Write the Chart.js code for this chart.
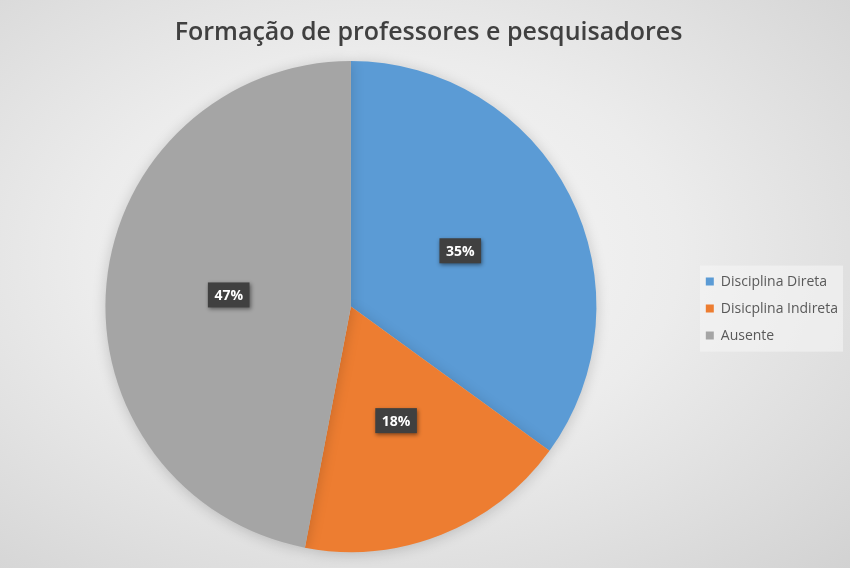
<!DOCTYPE html>
<html>
<head>
<meta charset="utf-8">
<script src="https://cdn.jsdelivr.net/npm/chart.js@4.4.1/dist/chart.umd.min.js"></script>
<style>
  html, body { margin: 0; padding: 0; }
  body { width: 850px; height: 568px; overflow: hidden; }
  #wrap {
    width: 850px; height: 568px;
    background: radial-gradient(ellipse at 45% 45%, #f8f8f8 0%, #ececec 45%, #d2d2d2 100%);
  }
</style>
</head>
<body>
<div id="wrap"><canvas id="pieChart" width="850" height="568"></canvas></div>
<script>
const categories = ['Disciplina Direta', 'Disicplina Indireta', 'Ausente'];
const shares = [35, 18, 47];
const colors = ['#5b9bd5', '#ed7d31', '#a5a5a5'];

// light box behind the legend items
const legendBox = {
    id: 'legendBox',
    beforeDraw(chart) {
        const lg = chart.legend;
        if (!lg || !lg.legendHitBoxes || !lg.legendHitBoxes.length) return;
        const hb = lg.legendHitBoxes;
        const top = Math.min(...hb.map(b => b.top));
        const bottom = Math.max(...hb.map(b => b.top + b.height));
        const c = chart.ctx;
        c.save();
        c.fillStyle = 'rgba(245,245,245,0.6)';
        c.fillRect(700, top - 9, 143, bottom - top + 18);
        c.restore();
    }
};

// soft shadow under the pie
const pieShadow = {
    id: 'pieShadow',
    beforeDatasetsDraw(chart) {
        const c = chart.ctx;
        c.save();
        c.shadowColor = 'rgba(0,0,0,0.18)';
        c.shadowBlur = 14;
        c.shadowOffsetX = 0;
        c.shadowOffsetY = 2;
    },
    afterDatasetsDraw(chart) {
        chart.ctx.restore();
    }
};

// dark boxed percentage labels
const sliceLabels = {
    id: 'sliceLabels',
    afterDatasetsDraw(chart) {
        const c = chart.ctx;
        const meta = chart.getDatasetMeta(0);
        c.save();
        c.font = 'bold 14px "Open Sans"';
        c.textAlign = 'center';
        c.textBaseline = 'middle';
        meta.data.forEach((arc, i) => {
            const p = arc.tooltipPosition();
            const txt = shares[i] + '%';
            const w = c.measureText(txt).width + 13;
            const h = 25;
            c.shadowColor = 'rgba(0,0,0,0.45)';
            c.shadowBlur = 4;
            c.shadowOffsetX = 1;
            c.shadowOffsetY = 2;
            c.fillStyle = '#404040';
            c.fillRect(p.x - w / 2, p.y - h / 2, w, h);
            c.shadowColor = 'transparent';
            c.fillStyle = '#ffffff';
            c.fillText(txt, p.x, p.y + 1);
        });
        c.restore();
    }
};

new Chart(document.getElementById('pieChart'), {
    type: 'pie',
    data: {
        labels: categories,
        datasets: [{
            data: shares,
            backgroundColor: colors,
            borderWidth: 0
        }]
    },
    options: {
        responsive: false,
        animation: false,
        devicePixelRatio: 1,
        layout: { padding: { top: 0, bottom: 16, left: 9, right: 2 } },
        plugins: {
            title: {
                display: true,
                text: 'Formação de professores e pesquisadores',
                color: '#404040',
                font: { family: '"Open Sans"', size: 25, weight: '600' },
                padding: { top: 18, bottom: 13 }
            },
            legend: {
                position: 'right',
                title: {
                    display: true,
                    text: ' ',
                    font: { size: 1 },
                    padding: 32
                },
                labels: {
                    color: '#595959',
                    font: { family: '"Open Sans"', size: 14 },
                    boxWidth: 8,
                    boxHeight: 8,
                    padding: 13
                }
            },
            tooltip: { enabled: false }
        }
    },
    plugins: [legendBox, pieShadow, sliceLabels]
});
</script>
</body>
</html>
